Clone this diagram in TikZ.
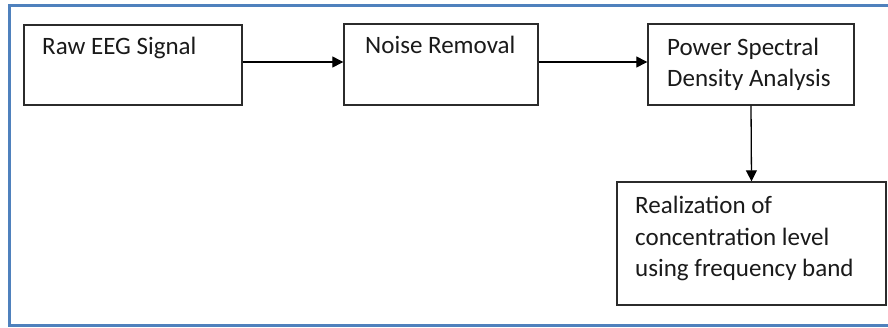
\documentclass[tikz,border=0pt]{standalone}
\usepackage{fontspec}
\setmainfont{Carlito}
\usetikzlibrary{arrows.meta}
\definecolor{frameblue}{HTML}{4F81BD}
\definecolor{boxline}{HTML}{2B2B2B}
\definecolor{txt}{HTML}{1A1A1A}
\begin{document}
\begin{tikzpicture}[x=1pt,y=-1pt,
  stagebox/.style={draw=boxline,line width=1.4pt,fill=white,inner sep=0pt},
  lbl/.style={anchor=base west,inner sep=0pt,text=txt,font=\fontsize{25}{30}\selectfont},
  conn/.style={draw=black,line width=1.3pt,-{Triangle[length=11pt,width=11pt]}}]
\useasboundingbox (0,0) rectangle (888,327);
\fill[white] (0,0) rectangle (888,327);
\draw[frameblue,line width=3pt] (9.5,5.3) rectangle (905,325.6);
% boxes
\node[stagebox,minimum width=218pt,minimum height=80pt] (b1) at (133,65) {};
\node[stagebox,minimum width=194pt,minimum height=81pt] (b2) at (441,64.5) {};
\node[stagebox,minimum width=206pt,minimum height=81pt] (b3) at (751,64.5) {};
\node[stagebox,minimum width=269pt,minimum height=123pt] (b4) at (751.5,243.5) {};
% labels
\node[lbl] (t1) at (42,54) {Raw EEG Signal};
\node[lbl] (t2) at (365,53) {Noise Removal};
\node[lbl] (t3a) at (667,55) {Power Spectral};
\node[lbl] (t3b) at (667,86) {Density Analysis};
\node[lbl] (t4a) at (635,213) {Realization of};
\node[lbl] (t4b) at (635,245) {concentration level};
\node[lbl] (t4c) at (635,276) {using frequency band};
% connectors
\draw[conn] (b1.east |- 0,62) -- (b2.west |- 0,62);
\draw[conn] (b2.east |- 0,62) -- (b3.west |- 0,62);
\draw[conn] (b3.south) -- (b4.north);
\end{tikzpicture}
\end{document}
